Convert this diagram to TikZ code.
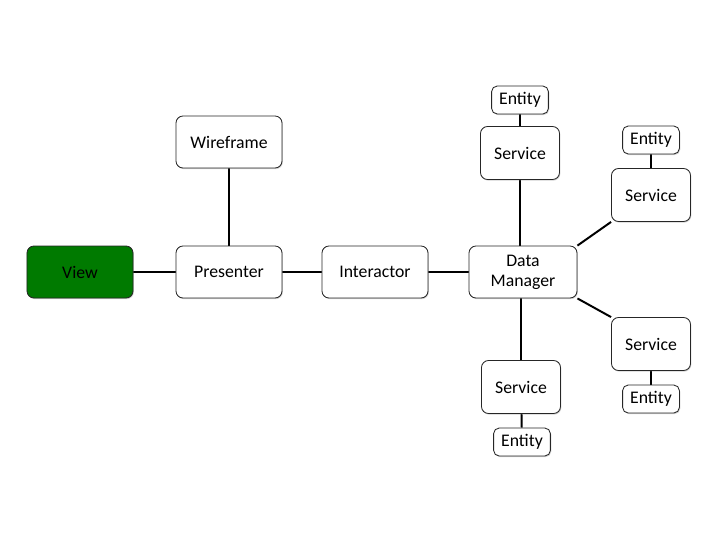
\documentclass[tikz,border=0pt]{standalone}
\usepackage{fontspec}
\setmainfont{Carlito}
\usetikzlibrary{shadows, backgrounds}
\definecolor{viewgreen}{RGB}{0,122,0}

\begin{document}
\begin{tikzpicture}[x=0.025cm, y=-0.025cm,
    every node/.style={font=\fontsize{12.6}{14}\selectfont},
    box/.style={draw=black!85, line width=0.6pt, fill=white, rounded corners=5pt,
        drop shadow={shadow xshift=0.6pt, shadow yshift=-0.8pt, opacity=0.35},
        align=center, inner sep=2pt},
    bigbox/.style={box, minimum width=2.65cm, minimum height=1.3cm},
    svcbox/.style={box, minimum width=1.975cm, minimum height=1.325cm},
    entbox/.style={box, rounded corners=4pt, minimum width=1.42cm, minimum height=0.7cm},
    link/.style={line width=1.4pt, black}]
\useasboundingbox (0,0) rectangle (720,540);

% main chain
\node[bigbox, fill=viewgreen] (view)       at (80,272)  {View};
\node[bigbox]                 (presenter)  at (229,272) {Presenter};
\node[bigbox]                 (wireframe)  at (229,142) {Wireframe};
\node[bigbox]                 (interactor) at (375,272) {Interactor};
\node[bigbox, minimum width=2.7cm] (datamgr) at (523,272) {Data\\Manager};

% services
\node[svcbox] (svcN)  at (520,153) {Service};
\node[svcbox] (svcNE) at (651,195) {Service};
\node[svcbox] (svcSE) at (651,344) {Service};
\node[svcbox] (svcS)  at (521,387) {Service};

% entities
\node[entbox] (entN)  at (520,100) {Entity};
\node[entbox] (entNE) at (651,140) {Entity};
\node[entbox] (entSE) at (651,399) {Entity};
\node[entbox] (entS)  at (522,442) {Entity};

\begin{scope}[on background layer]
\draw[link] (view) -- (presenter);
\draw[link] (presenter) -- (wireframe);
\draw[link] (presenter) -- (interactor);
\draw[link] (interactor) -- (datamgr);
\draw[link] (datamgr.north east) -- (svcNE.south west);
\draw[link] (datamgr.south east) -- (svcSE.north west);
\draw[link] (svcN.south) -- (svcN.south |- datamgr.north);
\draw[link] (svcS.north) -- (svcS.north |- datamgr.south);
\foreach \s in {N,NE,SE,S}{
    \draw[link] (svc\s) -- (ent\s);
}
\end{scope}
\end{tikzpicture}
\end{document}
